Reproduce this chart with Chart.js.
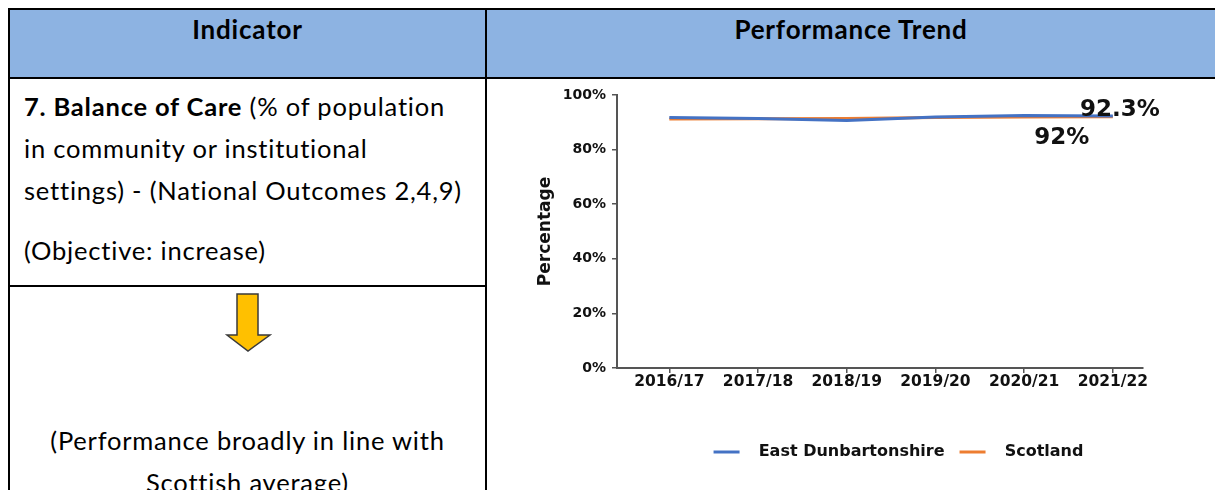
<!DOCTYPE html>
<html>
<head>
<meta charset="utf-8">
<script src="https://cdn.jsdelivr.net/npm/chart.js@4.4.1/dist/chart.umd.min.js"></script>
<style>
  body { margin: 0; width: 1215px; height: 490px; overflow: hidden; background: #fff; position: relative; font-family: Lato, "Open Sans", sans-serif; color: #000; }
  .line { position: absolute; background: #000; }
  .head { position: absolute; top: 10px; height: 67px; background: #8db3e2; }
  .headText { position: absolute; top: 13px; font-weight: bold; font-size: 26px; letter-spacing: 0.8px; line-height: 32px; text-align: center; }
  #indicator { position: absolute; left: 24px; top: 85px; font-size: 25.5px; letter-spacing: 0.8px; line-height: 42px; white-space: nowrap; }
  #indicator p { margin: 0; }
  #verdict { position: absolute; left: 10px; width: 475px; top: 419px; font-size: 25.5px; letter-spacing: 0.8px; line-height: 42px; text-align: center; white-space: nowrap; }
  #chartBox { position: absolute; left: 490px; top: 80px; width: 725px; height: 410px; }
</style>
</head>
<body>

<div class="head" style="left:10px;width:475px"></div>
<div class="head" style="left:487px;width:728px"></div>
<div class="headText" style="left:10px;width:475px">Indicator</div>
<div class="headText" style="left:487px;width:728px">Performance Trend</div>

<div class="line" style="left:8px;top:8px;width:1207px;height:2px"></div>
<div class="line" style="left:8px;top:77px;width:1207px;height:2px"></div>
<div class="line" style="left:8px;top:8px;width:2px;height:482px"></div>
<div class="line" style="left:485px;top:8px;width:2px;height:482px"></div>
<div class="line" style="left:8px;top:285px;width:479px;height:2px"></div>

<div id="indicator">
  <p><b>7. Balance of Care</b> (% of population<br>in community or institutional<br>settings) - (National Outcomes 2,4,9)</p>
  <p style="margin-top:18px">(Objective: increase)</p>
</div>

<svg style="position:absolute;left:220px;top:290px" width="60" height="66">
  <polygon points="17,4 38,4 38,45 50,45 28,61 7,45 17,45" fill="#ffc000" stroke="#3a3a3a" stroke-width="1.5"/>
</svg>

<div id="verdict">(Performance broadly in line with<br>Scottish average)</div>

<div id="chartBox"><canvas id="trendChart"></canvas></div>

<script>
// values (percent)
const years = ['2016/17', '2017/18', '2018/19', '2019/20', '2020/21', '2021/22'];
const eastDunbartonshire = [91.8, 91.4, 90.7, 91.9, 92.5, 92.3];
const scotland = [91.2, 91.3, 91.4, 91.8, 91.9, 92.0];
const seriesNames = ['East Dunbartonshire', 'Scotland'];
const seriesColors = ['#4472c4', '#ed7d31'];
const yTicks = [0, 20, 40, 60, 80, 100];

// the two value labels at the last year
const endLabels = {
  id: 'endLabels',
  afterDatasetsDraw(chart) {
    let ctx = chart.ctx;
    let x = chart.scales.x, y = chart.scales.y;
    let last = years.length - 1;
    ctx.save();
    ctx.font = 'bold 23px "DejaVu Sans"';
    ctx.fillStyle = '#111';
    ctx.textAlign = 'center';
    ctx.textBaseline = 'middle';
    ctx.fillText(eastDunbartonshire[last] + '%', x.getPixelForValue(last) + 7, y.getPixelForValue(eastDunbartonshire[last]) - 6);
    ctx.fillText(scotland[last] + '%', x.getPixelForValue(last) - 51, y.getPixelForValue(scotland[last]) + 21);
    ctx.restore();
  }
};

// legend sits right of the plot centre in the original
const legendShift = {
  id: 'legendShift',
  afterLayout(chart) {
    chart.legend.left += 82;
    chart.legend.right += 82;
  }
};

function toPoints(values) {
  return values.map((v, i) => ({ x: i, y: v }));
}

let ctx = document.getElementById('trendChart').getContext('2d');
let chart = new Chart(ctx, {
  type: 'line',
  data: {
    datasets: [
      { label: seriesNames[0], data: toPoints(eastDunbartonshire), borderColor: seriesColors[0], backgroundColor: seriesColors[0], borderWidth: 3, pointRadius: 0, tension: 0 },
      { label: seriesNames[1], data: toPoints(scotland), borderColor: seriesColors[1], backgroundColor: seriesColors[1], borderWidth: 3, pointRadius: 0, tension: 0 }
    ]
  },
  options: {
    animation: false,
    responsive: true,
    maintainAspectRatio: false,
    devicePixelRatio: 1,
    layout: { padding: { top: 15, right: 72, bottom: 20, left: 0 } },
    plugins: {
      tooltip: { enabled: false },
      legend: {
        position: 'bottom',
        labels: {
          boxWidth: 26,
          boxHeight: 3,
          padding: 15,
          color: '#111',
          font: { family: 'DejaVu Sans', weight: 'bold', size: 16 },
          generateLabels: (c) => Chart.defaults.plugins.legend.labels.generateLabels(c).map(item => {
            item.text = '  ' + item.text;
            item.lineWidth = 0;
            return item;
          })
        }
      }
    },
    scales: {
      x: {
        type: 'linear',
        min: -0.59,
        max: 5.34,
        afterBuildTicks: (s) => { s.ticks = years.map((y, i) => ({ value: i })); },
        afterFit: (s) => { s.height = 61; },
        ticks: {
          callback: (v) => years[v],
          color: '#111',
          font: { family: 'DejaVu Sans', weight: 'bold', size: 15.5 },
          padding: 0,
          maxRotation: 0
        },
        grid: { drawOnChartArea: false, drawTicks: true, tickLength: 5, tickColor: '#555', lineWidth: 1.5 },
        border: { display: true, color: '#555', width: 2 }
      },
      y: {
        min: 0,
        max: 100,
        afterBuildTicks: (s) => { s.ticks = yTicks.map(v => ({ value: v })); },
        afterFit: (s) => { s.width = 127; },
        ticks: {
          callback: (v) => v + '%',
          color: '#111',
          font: { family: 'DejaVu Sans', weight: 'bold', size: 14 },
          padding: 6
        },
        title: {
          display: true,
          text: 'Percentage',
          color: '#111',
          font: { family: 'DejaVu Sans', weight: 'bold', size: 17 },
          padding: { top: 45, bottom: 0 }
        },
        grid: { drawOnChartArea: false, drawTicks: true, tickLength: 5, tickColor: '#555', lineWidth: 1.5 },
        border: { display: true, color: '#555', width: 2 }
      }
    }
  },
  plugins: [endLabels, legendShift]
});
</script>
</body>
</html>
